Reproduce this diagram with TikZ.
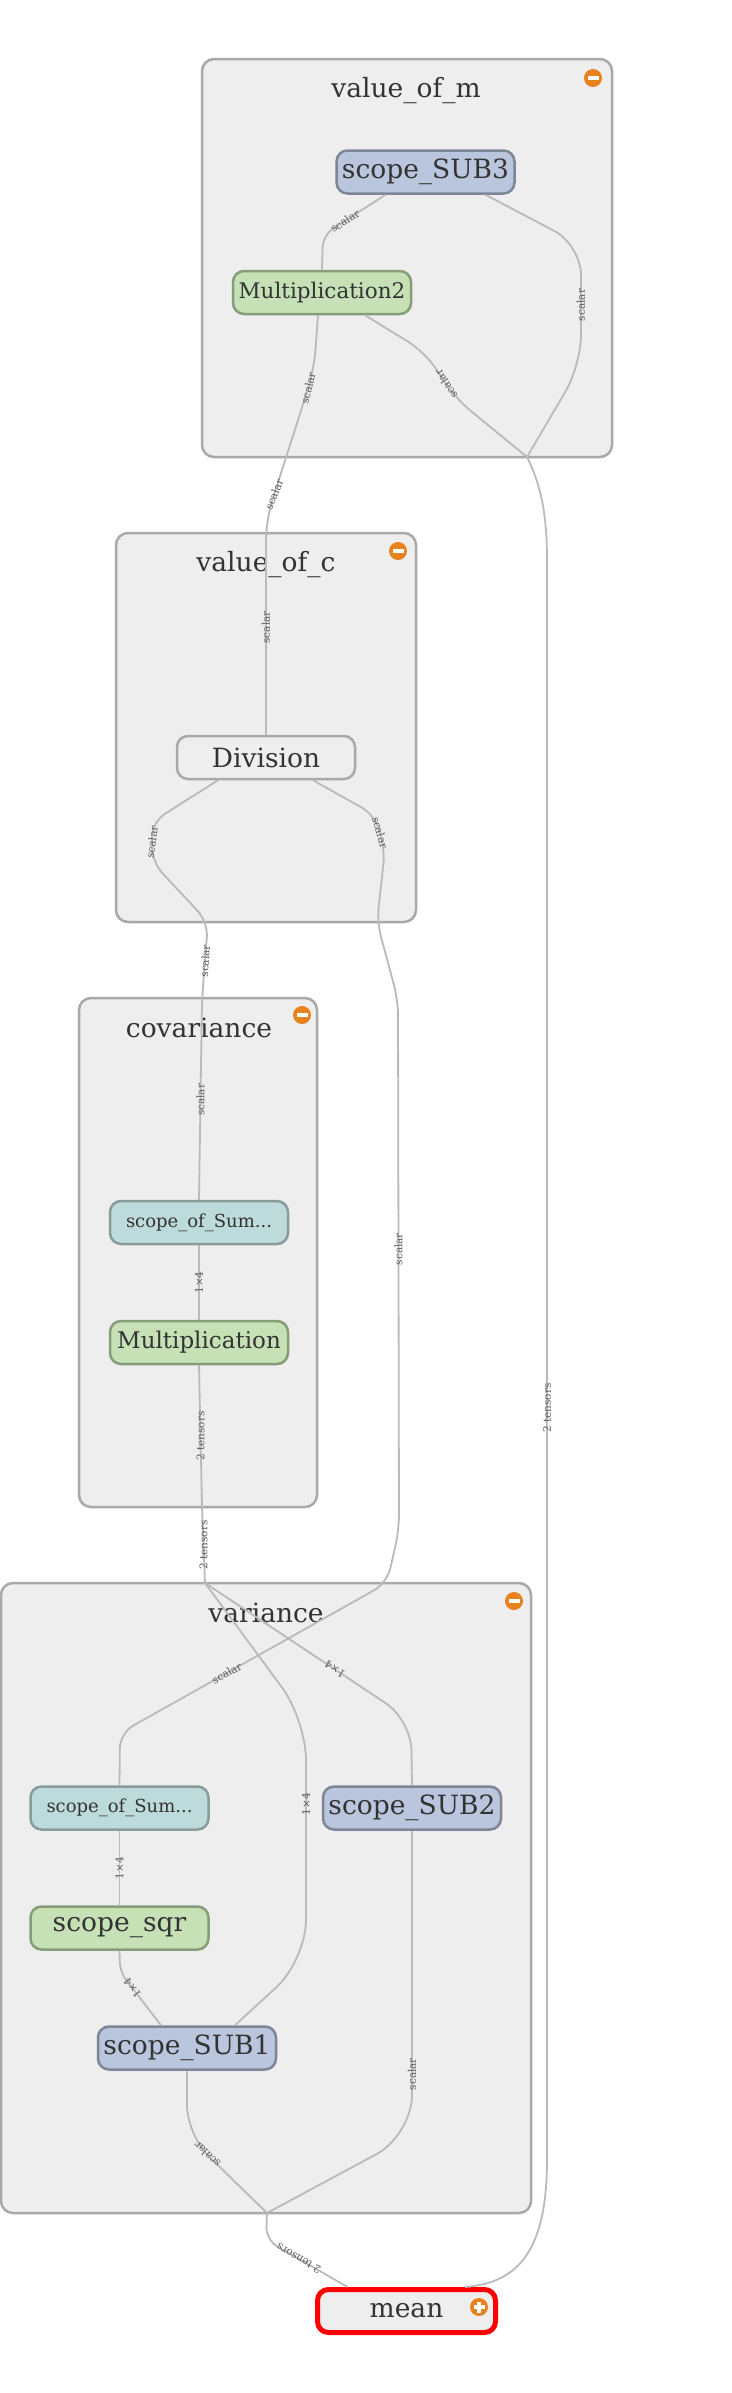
\documentclass[tikz,border=0pt]{standalone}
\usepackage{fontspec}
\setmainfont{DejaVu Serif}

\definecolor{boxfill}{HTML}{EEEEEE}
\definecolor{boxline}{HTML}{A9A9A9}
\definecolor{subfill}{HTML}{BAC5DE}
\definecolor{subline}{HTML}{7E8597}
\definecolor{mulfill}{HTML}{C5E1B5}
\definecolor{mulline}{HTML}{869D79}
\definecolor{sumfill}{HTML}{BDDBDB}
\definecolor{sumline}{HTML}{889C9C}
\definecolor{edgegray}{HTML}{BABABA}
\definecolor{labelgray}{HTML}{5A5A5A}
\definecolor{textgray}{HTML}{333333}
\definecolor{iconorange}{HTML}{E8821E}

\tikzset{
  groupbox/.style={draw=boxline, fill=boxfill, line width=2.5pt, rounded corners=12pt},
  grouptitle/.style={text=textgray, font=\fontsize{26.5}{30}\selectfont, inner sep=0pt},
  opnode/.style={rounded corners=11pt, line width=2.5pt, minimum width=178pt, minimum height=43pt, inner sep=0pt, text=textgray, font=\fontsize{26.5}{30}\selectfont},
  subop/.style={opnode, draw=subline, fill=subfill},
  mulop/.style={opnode, draw=mulline, fill=mulfill},
  sumop/.style={opnode, draw=sumline, fill=sumfill, font=\fontsize{18}{20}\selectfont},
  plainop/.style={opnode, draw=boxline, fill=boxfill},
  edgeline/.style={draw=edgegray, line width=1.8pt},
  elabel/.style={text=labelgray, font=\fontsize{10.5}{11}\selectfont, inner sep=0.5pt},
}

\begin{document}
\begin{tikzpicture}[x=1pt,y=1pt]
\useasboundingbox (0,0) rectangle (731,-2393);
\fill[white] (0,0) rectangle (731,-2393);

% group boxes
\draw[groupbox] (202,-59) rectangle (612,-457);
\node[grouptitle] (tm) at (406,-91) {value\_of\_m};
\fill[iconorange] (593,-78) circle (9);
\fill[white] (587.5,-79.7) rectangle (598.5,-76.3);

\draw[groupbox] (116,-533) rectangle (416,-922);
\node[grouptitle] (tc) at (266,-565) {value\_of\_c};
\fill[iconorange] (398,-551) circle (9);
\fill[white] (392.5,-552.7) rectangle (403.5,-549.3);

\draw[groupbox] (79,-998) rectangle (317,-1507);
\node[grouptitle] (tcov) at (199,-1028) {covariance};
\fill[iconorange] (302,-1015) circle (9);
\fill[white] (296.5,-1016.7) rectangle (307.5,-1013.3);

\draw[groupbox] (1,-1583) rectangle (531,-2213);
\node[grouptitle] (tvar) at (266,-1613) {variance};
\fill[iconorange] (514,-1601) circle (9);
\fill[white] (508.5,-1602.7) rectangle (519.5,-1599.3);

% ops
\node[subop] (sub3) at (425.5,-172) {scope\_SUB3};
\node[mulop, font=\fontsize{21.5}{24}\selectfont] (mul2) at (322,-292.5) {Multiplication2};
\node[plainop] (div) at (266,-757.5) {Division};
\node[sumop] (covsum) at (199,-1222.5) {scope\_of\_Sum...};
\node[mulop, font=\fontsize{23}{26}\selectfont] (covmul) at (199,-1342.5) {Multiplication};
\node[sumop] (varsum) at (119.5,-1808) {scope\_of\_Sum...};
\node[subop] (sub2) at (412,-1808) {scope\_SUB2};
\node[mulop] (sqr) at (119.5,-1928) {scope\_sqr};
\node[subop] (sub1) at (187,-2048) {scope\_SUB1};
\node[plainop, draw=red, line width=5pt] (mean) at (406.5,-2311) {mean};
\fill[iconorange] (479,-2307) circle (9);
\fill[white] (473.5,-2308.7) rectangle (484.5,-2305.3);
\fill[white] (477.3,-2301.5) rectangle (480.7,-2312.5);

\coordinate (mout) at (527,-457);
\coordinate (cvin) at (205,-1583);
\coordinate (vout) at (267,-2213);

% edges
\draw[edgeline, rounded corners=12pt] ([xshift=-40pt]sub3.south) -- node[elabel, rotate=33, pos=0.65] {scalar} (323,-235) -- (mul2.north);
\draw[edgeline, rounded corners=30pt] ([xshift=60pt]sub3.south) -- (581,-245) -- node[elabel, rotate=90] {scalar} (581,-365) -- (mout);
\draw[edgeline, rounded corners=20pt] ([xshift=-4pt]mul2.south) -- (314,-370) -- node[elabel, rotate=76, pos=0.12] {scalar} node[elabel, rotate=68, pos=0.83] {scalar} (266,-520) -- node[elabel, rotate=90] {scalar} (div.north);
\draw[edgeline, rounded corners=20pt] ([xshift=43pt]mul2.south) -- (425,-352) -- node[elabel, rotate=123, pos=0.7] {scalar} (455,-398) -- (mout);
\draw[edgeline] (mout) .. controls (538,-480) and (547,-505) .. (547,-560) -- node[elabel, rotate=90, pos=0.53] {2 tensors} (547,-2160) .. controls (547,-2255) and (515,-2283) .. ([xshift=58.5pt]mean.north);

\draw[edgeline, rounded corners=15pt] ([xshift=-48pt]div.south) -- (152,-822) -- node[elabel, rotate=82] {scalar} (152,-862) -- (208,-922) -- node[elabel, rotate=86] {scalar} (202,-1000) -- node[elabel, rotate=90] {scalar} (covsum.north);
\draw[edgeline, rounded corners=15pt] ([xshift=47pt]div.south) -- (375,-815) -- node[elabel, rotate=-74] {scalar} (385,-850) -- (377,-922) -- (398,-1000) -- node[elabel, rotate=90, pos=0.47] {scalar} (399,-1530) -- (387,-1583) -- node[elabel, rotate=29, pos=0.6] {scalar} (120,-1733) -- (varsum.north);

\draw[edgeline] (covsum) -- node[elabel, rotate=90] {1×4} (covmul);
\draw[edgeline] (covmul.south) -- node[elabel, rotate=90] {2 tensors} (202,-1507) -- node[elabel, rotate=90] {2 tensors} (cvin);

\draw[edgeline, rounded corners=30pt] (cvin) -- node[elabel, rotate=146, pos=0.63] {1×4} (411,-1720) -- (sub2.north);
\draw[edgeline, rounded corners=40pt] (cvin) -- (306,-1720) -- node[elabel, rotate=90, pos=0.35] {1×4} (306,-1960) -- ([xshift=48pt]sub1.north);
\draw[edgeline] (varsum) -- node[elabel, rotate=90] {1×4} (sqr);
\draw[edgeline, rounded corners=10pt] (sqr.south) -- (120,-1972) -- node[elabel, rotate=126, pos=0.3] {1×4} ([xshift=-26pt]sub1.north);

\draw[edgeline, rounded corners=30pt] (sub1.south) -- (187,-2135) -- node[elabel, rotate=136, pos=0.25] {scalar} (vout);
\draw[edgeline, rounded corners=40pt] (sub2.south) -- node[elabel, rotate=90, pos=0.8] {scalar} (412,-2135) -- (vout);
\draw[edgeline, rounded corners=13pt] (vout) -- (266,-2240) -- node[elabel, rotate=150, pos=0.4] {2 tensors} ([xshift=-59pt]mean.north);

\end{tikzpicture}
\end{document}
